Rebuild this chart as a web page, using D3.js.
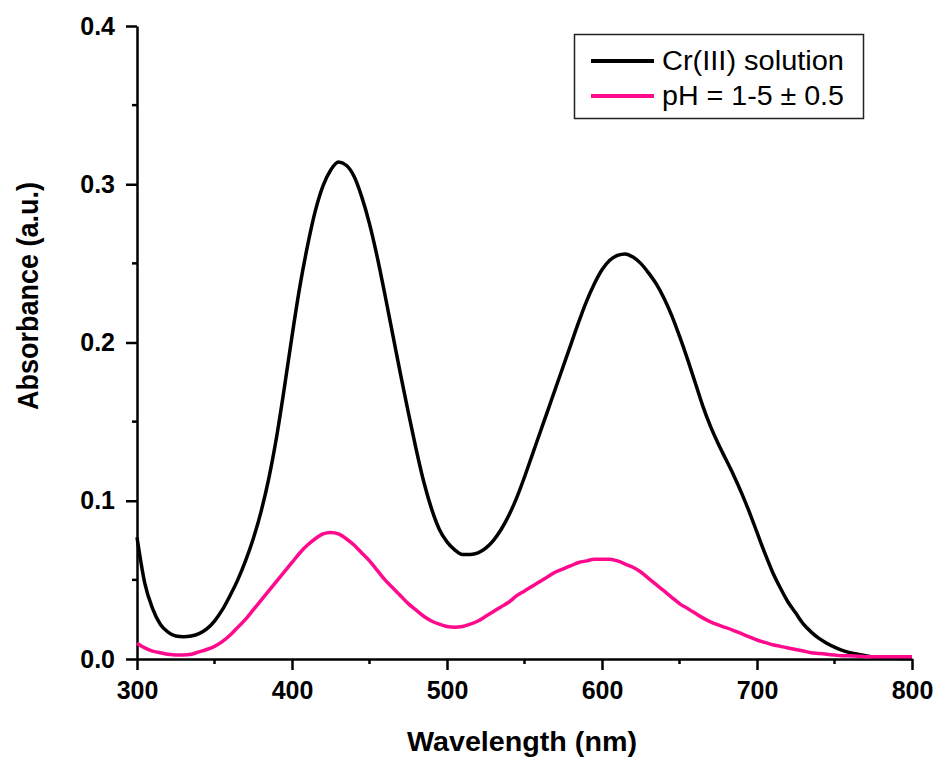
<!DOCTYPE html>
<html>
<head>
<meta charset="utf-8">
<script src="https://cdn.jsdelivr.net/npm/d3@7"></script>
<style>
  body { margin: 0; background: #fff; }
  svg { display: block; }
  text { font-family: Arial, "Liberation Sans", sans-serif; }
</style>
</head>
<body>
<svg></svg>
<script>
// wavelength grid (nm)
var wavelengths = [300,305,310,315,320,325,330,335,340,345,350,355,360,365,370,375,380,385,390,395,
  400,405,410,415,420,425,430,435,440,445,450,455,460,465,470,475,480,485,490,495,
  500,505,510,515,520,525,530,535,540,545,550,555,560,565,570,575,580,585,590,595,
  600,605,610,615,620,625,630,635,640,645,650,655,660,665,670,675,680,685,690,695,
  700,705,710,715,720,725,730,735,740,745,750,755,760,765,770,775,780,785,790,795,800];

// Cr(III) solution
var crSolution = [0.077,0.048,0.032,0.022,0.017,0.0145,0.014,0.0145,0.016,0.019,0.024,0.031,0.040,0.050,0.062,0.076,0.093,0.114,0.140,0.171,
  0.204,0.235,0.261,0.283,0.299,0.309,0.314,0.312,0.305,0.292,0.275,0.254,0.230,0.205,0.180,0.156,0.133,0.112,0.095,0.082,
  0.074,0.069,0.066,0.066,0.067,0.070,0.075,0.082,0.091,0.102,0.115,0.129,0.143,0.157,0.171,0.185,0.199,0.213,0.226,0.237,
  0.246,0.252,0.255,0.256,0.254,0.250,0.244,0.237,0.228,0.217,0.204,0.190,0.175,0.160,0.147,0.136,0.126,0.116,0.105,0.093,
  0.080,0.067,0.055,0.045,0.036,0.029,0.022,0.017,0.013,0.010,0.0075,0.0055,0.004,0.003,0.002,0.0012,0.0007,0.0005,0.0004,0.0003,0.0003];

// pH = 1-5 ± 0.5
var phSeries = [0.010,0.007,0.005,0.004,0.003,0.0025,0.0025,0.003,0.0045,0.006,0.008,0.011,0.015,0.020,0.025,0.031,0.037,0.043,0.049,0.055,
  0.061,0.067,0.072,0.076,0.079,0.080,0.079,0.076,0.072,0.067,0.062,0.056,0.050,0.045,0.040,0.035,0.031,0.027,0.024,0.022,
  0.0205,0.020,0.0205,0.022,0.024,0.027,0.030,0.033,0.036,0.040,0.043,0.046,0.049,0.052,0.055,0.057,0.059,0.061,0.062,0.063,
  0.063,0.063,0.062,0.060,0.058,0.055,0.051,0.047,0.043,0.039,0.035,0.032,0.029,0.026,0.0235,0.0215,0.0198,0.018,0.016,0.014,
  0.012,0.0105,0.009,0.008,0.007,0.006,0.005,0.004,0.0035,0.003,0.0025,0.002,0.002,0.0018,0.0015,0.0015,0.0015,0.0015,0.0015,0.0015,0.0015];

var xTicks = [300, 400, 500, 600, 700, 800];
var yTicks = [0.0, 0.1, 0.2, 0.3, 0.4];
var seriesNames = ["Cr(III) solution", "pH = 1-5 \u00b1 0.5"];
var seriesColors = ["#000000", "#ff0a8c"];

var svgWidth = 936, svgHeight = 759;
var svg = d3.select('svg')
    .attr('width', svgWidth)
    .attr('height', svgHeight);

var margin = {left: 137, right: 24, top: 26, bottom: 100};

var x = d3.scaleLinear()
    .domain([300, 800])
    .range([margin.left, svgWidth - margin.right]);
var y = d3.scaleLinear()
    .domain([0, 0.4])
    .range([svgHeight - margin.bottom, margin.top]);

// minor ticks
var xMinor = d3.range(350, 800, 100);
var yMinor = d3.range(0.05, 0.4, 0.1);

svg.selectAll('.xminor')
    .data(xMinor)
    .enter().append('line')
    .attr('x1', d => x(d)).attr('x2', d => x(d))
    .attr('y1', y(0)).attr('y2', y(0) + 5)
    .attr('stroke', '#000').attr('stroke-width', 2.5);

svg.selectAll('.yminor')
    .data(yMinor)
    .enter().append('line')
    .attr('x1', x(300)).attr('x2', x(300) - 5)
    .attr('y1', d => y(d)).attr('y2', d => y(d))
    .attr('stroke', '#000').attr('stroke-width', 2.5);

// axes
var xAxis = svg.append('g')
    .attr('transform', 'translate(0,' + y(0) + ')')
    .call(d3.axisBottom(x).tickValues(xTicks).tickSize(11).tickSizeOuter(0).tickPadding(11));
var yAxis = svg.append('g')
    .attr('transform', 'translate(' + x(300) + ',0)')
    .call(d3.axisLeft(y).tickValues(yTicks).tickSize(11).tickSizeOuter(0).tickPadding(11)
        .tickFormat(d3.format('.1f')));

[xAxis, yAxis].forEach(function(a) {
    a.select('.domain').attr('stroke-width', 2.5);
    a.selectAll('.tick line').attr('stroke-width', 2.5);
    a.selectAll('.tick text')
        .attr('fill', '#000')
        .style('font-size', '25px')
        .style('font-weight', 'bold');
});

// axis titles
svg.append('text')
    .attr('x', 522)
    .attr('y', 751)
    .attr('text-anchor', 'middle')
    .attr('textLength', 230)
    .attr('lengthAdjust', 'spacingAndGlyphs')
    .style('font-size', '27px')
    .style('font-weight', 'bold')
    .text('Wavelength (nm)');

svg.append('text')
    .attr('transform', 'translate(38,296) rotate(-90)')
    .attr('text-anchor', 'middle')
    .attr('textLength', 228)
    .attr('lengthAdjust', 'spacingAndGlyphs')
    .style('font-size', '30px')
    .style('font-weight', 'bold')
    .text('Absorbance (a.u.)');

// curves
var line = d3.line()
    .x((d, i) => x(wavelengths[i]))
    .y(d => y(d))
    .curve(d3.curveMonotoneX);

[crSolution, phSeries].forEach(function(s, k) {
    svg.append('path')
        .datum(s)
        .attr('d', line)
        .attr('fill', 'none')
        .attr('stroke', seriesColors[k])
        .attr('stroke-width', 3.5)
        .attr('stroke-linejoin', 'round');
});

// legend
var legend = svg.append('g');
legend.append('rect')
    .attr('x', 574.5).attr('y', 34.5)
    .attr('width', 289).attr('height', 84)
    .attr('fill', '#fff')
    .attr('stroke', '#222').attr('stroke-width', 1.5);

var legendItems = legend.selectAll('.item')
    .data(seriesNames)
    .enter().append('g')
    .attr('transform', (d, i) => 'translate(0,' + (61 + i * 35) + ')');

legendItems.append('line')
    .attr('x1', 591).attr('x2', 654)
    .attr('stroke', (d, i) => seriesColors[i])
    .attr('stroke-width', 4);

legendItems.append('text')
    .attr('x', 662)
    .attr('dy', '0.35em')
    .attr('textLength', 182)
    .attr('lengthAdjust', 'spacingAndGlyphs')
    .style('font-size', '27px')
    .text(d => d);
</script>
</body>
</html>
